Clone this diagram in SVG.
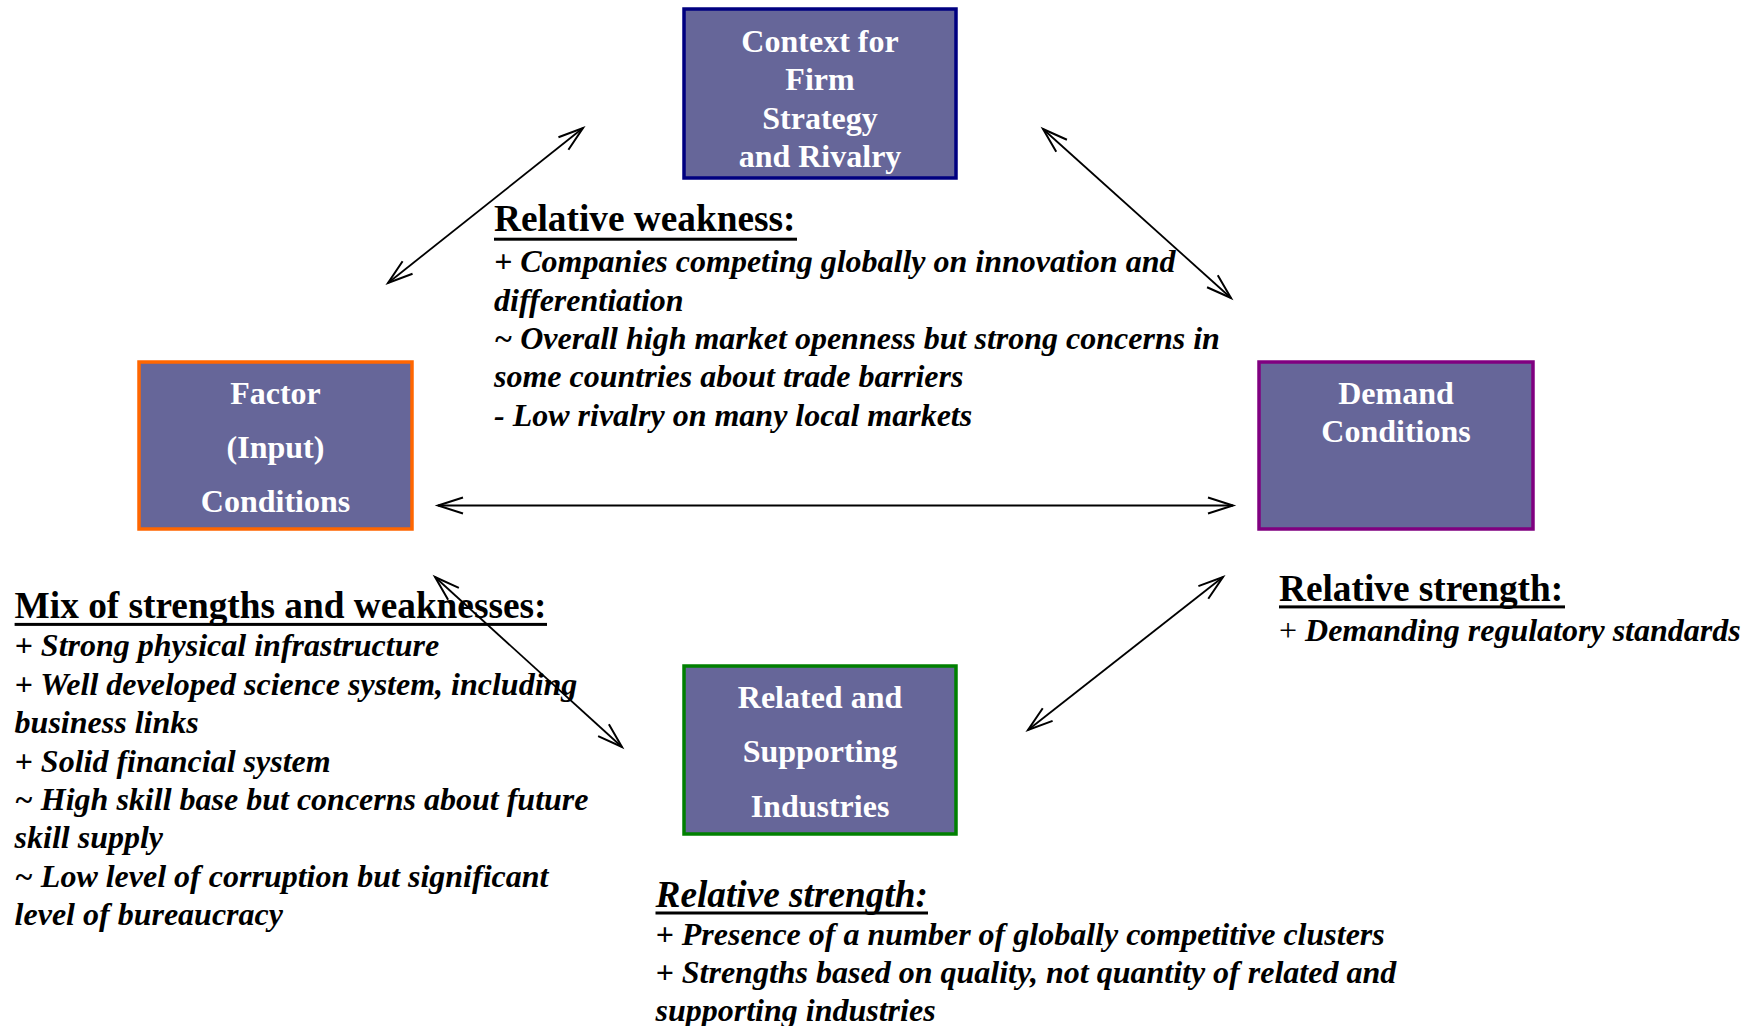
<svg xmlns="http://www.w3.org/2000/svg" width="1757" height="1026" viewBox="0 0 1757 1026">
<style>
.box{fill:#666699;stroke-width:3.5}
.bt{font-family:"Liberation Serif","Times New Roman",serif;font-weight:bold;font-size:32px;fill:#ffffff;text-anchor:middle}
.hd{font-family:"Liberation Serif","Times New Roman",serif;font-weight:bold;font-size:37.3px;fill:#000000}
.bd{font-family:"Liberation Serif","Times New Roman",serif;font-weight:bold;font-style:italic;font-size:32px;fill:#000000}
.ul{fill:#000000}
.cn{stroke:#000000;stroke-width:1.8;fill:none;marker-start:url(#ah);marker-end:url(#ah)}
</style>
<defs>
<marker id="ah" markerUnits="userSpaceOnUse" markerWidth="40" markerHeight="30" refX="0" refY="0" viewBox="-30 -15 40 30" orient="auto-start-reverse" overflow="visible">
<path d="M -25 -8 L 0 0 L -25 8" fill="none" stroke="#000000" stroke-width="2"/>
</marker>
</defs>
<rect width="1757" height="1026" fill="#ffffff"/>

<g id="connectors">
<line class="cn" x1="388" y1="283" x2="583" y2="128"/>
<line class="cn" x1="1043" y1="129" x2="1231" y2="298"/>
<line class="cn" x1="438" y1="505.5" x2="1233" y2="505.5"/>
<line class="cn" x1="435" y1="577" x2="622" y2="747"/>
<line class="cn" x1="1028" y1="730" x2="1223" y2="577"/>
</g>

<g id="node-context">
<rect class="box" x="684" y="9" width="272" height="169" stroke="#000080"/>
<text class="bt" x="820" y="52">Context for</text>
<text class="bt" x="820" y="90.4">Firm</text>
<text class="bt" x="820" y="128.8">Strategy</text>
<text class="bt" x="820" y="167.2">and Rivalry</text>
</g>

<g id="node-factor">
<rect class="box" x="139" y="362" width="273" height="167" stroke="#ff6600"/>
<text class="bt" x="275.5" y="404">Factor</text>
<text class="bt" x="275.5" y="458">(Input)</text>
<text class="bt" x="275.5" y="512">Conditions</text>
</g>

<g id="node-demand">
<rect class="box" x="1259" y="362" width="274" height="167" stroke="#800080"/>
<text class="bt" x="1396" y="404">Demand</text>
<text class="bt" x="1396" y="442">Conditions</text>
</g>

<g id="node-related">
<rect class="box" x="684" y="666" width="272" height="168" stroke="#008000"/>
<text class="bt" x="820" y="708">Related and</text>
<text class="bt" x="820" y="762">Supporting</text>
<text class="bt" x="820" y="817">Industries</text>
</g>

<g id="note-context">
<text class="hd" x="494" y="231.2">Relative weakness:</text>
<rect class="ul" x="494" y="237.7" width="303" height="3"/>
<text class="bd" x="494" y="272.2">+ Companies competing globally on innovation and</text>
<text class="bd" x="494" y="310.6">differentiation</text>
<text class="bd" x="494" y="349">~ Overall high market openness but strong concerns in</text>
<text class="bd" x="494" y="387.4">some countries about trade barriers</text>
<text class="bd" x="494" y="425.8">- Low rivalry on many local markets</text>
</g>

<g id="note-factor">
<text class="hd" x="14.6" y="618.4">Mix of strengths and weaknesses:</text>
<rect class="ul" x="14.6" y="622.9" width="532.4" height="3"/>
<text class="bd" x="14.6" y="656.4">+ Strong physical infrastructure</text>
<text class="bd" x="14.6" y="694.8">+ Well developed science system, including</text>
<text class="bd" x="14.6" y="733.2">business links</text>
<text class="bd" x="14.6" y="771.6">+ Solid financial system</text>
<text class="bd" x="14.6" y="810">~ High skill base but concerns about future</text>
<text class="bd" x="14.6" y="848.4">skill supply</text>
<text class="bd" x="14.6" y="886.8">~ Low level of corruption but significant</text>
<text class="bd" x="14.6" y="925.2">level of bureaucracy</text>
</g>

<g id="note-demand">
<text class="hd" x="1279" y="601.4">Relative strength:</text>
<rect class="ul" x="1279" y="605.4" width="286" height="3"/>
<text class="bd" x="1279" y="641"><tspan font-weight="normal" font-style="normal">+</tspan> Demanding regulatory standards</text>
</g>

<g id="note-related">
<text class="hd" x="655.5" y="906.5" font-style="italic">Relative strength:</text>
<rect class="ul" x="655.5" y="911.5" width="272.5" height="3"/>
<text class="bd" x="655.5" y="944.5">+ Presence of a number of globally competitive clusters</text>
<text class="bd" x="655.5" y="982.9">+ Strengths based on quality, not quantity of related and</text>
<text class="bd" x="655.5" y="1021.3">supporting industries</text>
</g>
</svg>
